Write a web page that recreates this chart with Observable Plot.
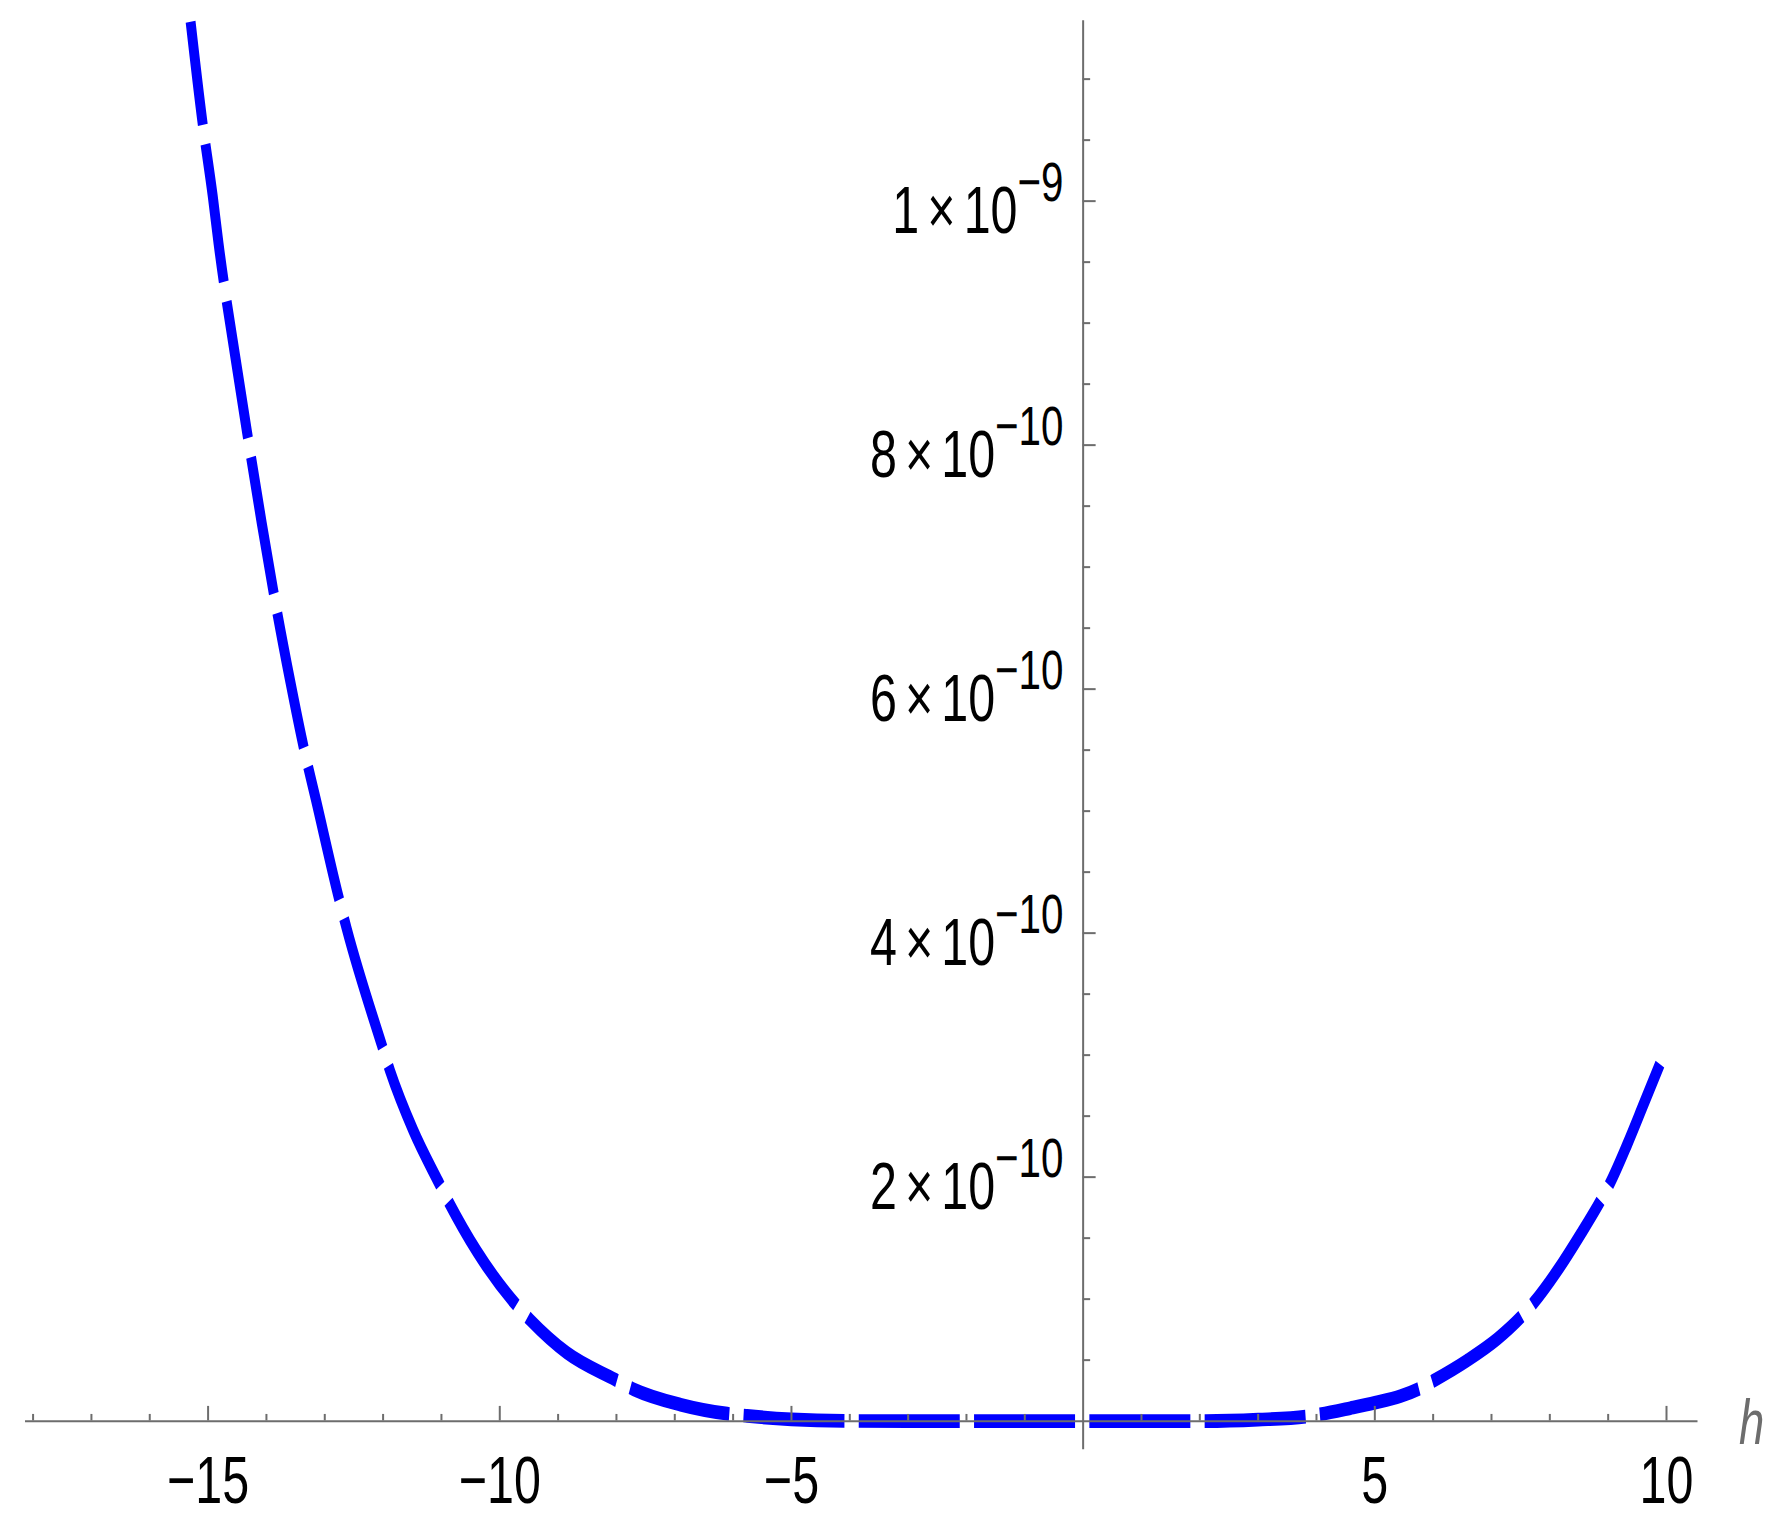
<!DOCTYPE html>
<html>
<head>
<meta charset="utf-8">
<script src="https://cdn.jsdelivr.net/npm/d3@7"></script>
<script src="https://cdn.jsdelivr.net/npm/@observablehq/plot@0.6"></script>
<style>
  html, body { margin: 0; padding: 0; background: #fff; }
  #chart svg { display: block; }
</style>
</head>
<body>
<div id="chart"></div>
<script>
// ---- data (v in units of 1e-9) ----
const hValues = [-15.30,-15.10,-14.92,-14.82,-14.50,-14.33,-14.08,-13.88,-13.59,-13.36,-13.15,-12.76,-12.62,-12.02,-11.88,-11.48,-11.05,-10.88,-10.39,-9.73,-9.48,-8.85,-8.02,-7.70,-6.90,-6.10,-5.76,-5.00,-4.10,-3.00,-2.00,-1.00,0.00,1.00,2.10,3.00,3.82,4.06,4.58,5.00,5.44,5.75,6.01,6.58,7.10,7.50,7.73,8.13,8.53,8.87,9.03,9.33,9.61,9.89];
const vValues = [1.147,1.066,1.004,0.965,0.862,0.810,0.736,0.680,0.606,0.552,0.509,0.429,0.403,0.308,0.287,0.238,0.196,0.180,0.139,0.096,0.083,0.056,0.034,0.026,0.0135,0.0061,0.0043,0.0015,0.0002,0,0,0,0,0,0,0.0012,0.0038,0.0056,0.0106,0.0150,0.0205,0.0264,0.0332,0.0496,0.0674,0.0851,0.0974,0.1234,0.1534,0.1807,0.1949,0.2272,0.260,0.293];

const xTickValues = [-15, -10, -5, 5, 10];
const xTickLabels = ["\u221215", "\u221210", "\u22125", "5", "10"];
const xMinorTicks = [-18,-17,-16,-14,-13,-12,-11,-9,-8,-7,-6,-4,-3,-2,-1,1,2,3,4,6,7,8,9];

const yTickValues = [2e-10, 4e-10, 6e-10, 8e-10, 1e-9];
const yTickMantissa = ["2", "4", "6", "8", "1"];
const yTickExponent = ["\u221210", "\u221210", "\u221210", "\u221210", "\u22129"];
const yMinorTicks = [5e-11,1e-10,1.5e-10,2.5e-10,3e-10,3.5e-10,4.5e-10,5e-10,5.5e-10,6.5e-10,7e-10,7.5e-10,8.5e-10,9e-10,9.5e-10,1.05e-9,1.1e-9];

const xLabel = "h";
const xDomain = [-18.13, 10.54];
const yDomain = [-0.0236e-9, 1.1476e-9];

// ---- build ----
const data = hValues.map((h, i) => ({h, v: vValues[i] * 1e-9}));
const W = 1779, H = 1111, OUT_H = 1539;   // drawn at H, shown stretched vertically to OUT_H
const axisColor = "#6d6d6d";
const blue = "#0000ff";

const plot = Plot.plot({
  width: W,
  height: H,
  marginLeft: 25,
  marginRight: 81.5,
  marginTop: 14.7,
  marginBottom: 64.8,
  x: {domain: xDomain, axis: null},
  y: {domain: yDomain, axis: null},
  style: {fontFamily: "'Liberation Sans', Arial, Helvetica, sans-serif", background: "#fff", color: "#000"},
  marks: [
    Plot.line(data, {x: "h", y: "v", stroke: blue, strokeWidth: 9.9, strokeDasharray: "101 14.3", strokeLinecap: "butt", strokeLinejoin: "round", curve: "monotone-x"}),
    Plot.ruleY([0], {x1: xDomain[0], x2: xDomain[1], stroke: axisColor, strokeWidth: 1.45}),
    Plot.ruleX([0], {y1: yDomain[0], y2: yDomain[1], stroke: axisColor, strokeWidth: 2}),
    Plot.ruleX(xTickValues, {x: d => d, y1: 0, y2: 0, insetTop: 0, insetBottom: 10.5, stroke: axisColor, strokeWidth: 2}),
    Plot.ruleX(xMinorTicks, {x: d => d, y1: 0, y2: 0, insetTop: 0, insetBottom: 4.7, stroke: axisColor, strokeWidth: 2}),
    Plot.ruleY(yTickValues, {y: d => d, x1: 0, x2: 0, insetLeft: 0, insetRight: -13, stroke: axisColor, strokeWidth: 1.45}),
    Plot.ruleY(yMinorTicks, {y: d => d, x1: 0, x2: 0, insetLeft: 0, insetRight: -7.5, stroke: axisColor, strokeWidth: 1.45}),
    Plot.text(xTickValues, {x: d => d, y: 0, text: (d, i) => xTickLabels[i], dy: 43.3, fontSize: 48.4, fill: "#000"}),
    Plot.text(yTickValues, {x: 0, y: d => d, text: (d, i) => yTickMantissa[i] + "\u2006\u00D7\u2006" + "10", textAnchor: "end", dx: -19.7, dy: 7.6, fontSize: 48.4, fill: "#000"}),
    Plot.text([xLabel], {x: xDomain[1], y: 0, text: d => d, textAnchor: "start", dx: 41, dy: 1.6, fontSize: 45.5, fontStyle: "italic", fill: axisColor})
  ]
});

document.getElementById("chart").appendChild(plot);

// superscript exponents on the y tick labels
const ylabs = Array.from(plot.querySelectorAll("text")).filter(t => t.textContent.includes("\u00D7"));
ylabs.forEach((t, i) => {
  const ts = document.createElementNS("http://www.w3.org/2000/svg", "tspan");
  ts.setAttribute("dy", "-23.1");
  ts.setAttribute("font-size", "40.3");
  ts.textContent = yTickExponent[i];
  t.appendChild(ts);
});

// the reference is rendered with a vertical stretch: display the SVG at the full height
plot.setAttribute("preserveAspectRatio", "none");
plot.setAttribute("width", W);
plot.setAttribute("height", OUT_H);
plot.style.width = W + "px";
plot.style.height = OUT_H + "px";
plot.style.maxWidth = "none";

// dash phase: a gap begins just left of h = 0 on the flat part
const path = Array.from(plot.querySelectorAll("path")).find(p => {
  const g = p.closest("[stroke]");
  return g && g.getAttribute("stroke") === blue;
});
if (path && path.getTotalLength) {
  const total = path.getTotalLength();
  const targetX = 1074.5;
  let lo = 0, hi = total;
  for (let k = 0; k < 60; k++) {
    const mid = (lo + hi) / 2;
    if (path.getPointAtLength(mid).x < targetX) lo = mid; else hi = mid;
  }
  const L0 = (lo + hi) / 2;
  const P = 101 + 14.3;
  const o = (((101 - L0) % P) + P) % P;
  path.setAttribute("stroke-dashoffset", o);
}
</script>
</body>
</html>
